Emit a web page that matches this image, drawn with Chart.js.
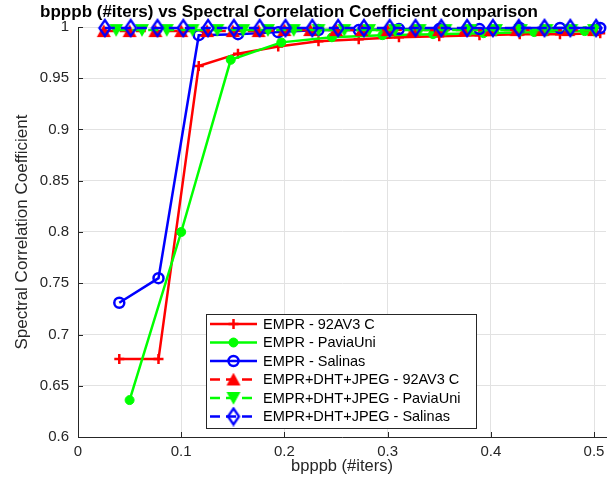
<!DOCTYPE html>
<html><head><meta charset="utf-8">
<script src="https://cdn.jsdelivr.net/npm/chart.js@4/dist/chart.umd.min.js"></script>
<style>html,body{margin:0;padding:0;background:#fff}#wrap{width:615px;height:489px}</style>
</head><body><div id="wrap"><canvas id="c" width="615" height="489"></canvas></div>
<script>
const chartTitle = 'bpppb (#iters) vs Spectral Correlation Coefficient comparison';
const xAxisLabel = 'bpppb (#iters)';
const yAxisLabel = 'Spectral Correlation Coefficient';
const seriesNames = ['EMPR - 92AV3 C', 'EMPR - PaviaUni', 'EMPR - Salinas',
  'EMPR+DHT+JPEG - 92AV3 C', 'EMPR+DHT+JPEG - PaviaUni', 'EMPR+DHT+JPEG - Salinas'];
const xTicks = [0, 0.1, 0.2, 0.3, 0.4, 0.5];
const yTicks = [0.6, 0.65, 0.7, 0.75, 0.8, 0.85, 0.9, 0.95, 1];

const empr92X = [0.040, 0.078, 0.117, 0.155, 0.194, 0.233, 0.272, 0.311, 0.350, 0.389, 0.428, 0.467, 0.506];
const empr92Y = [0.676, 0.676, 0.962, 0.974, 0.981, 0.986, 0.988, 0.990, 0.991, 0.992, 0.993, 0.993, 0.994];
const emprPaviaX = [0.050, 0.100, 0.148, 0.197, 0.246, 0.295, 0.344, 0.393, 0.442, 0.491];
const emprPaviaY = [0.636, 0.800, 0.968, 0.985, 0.990, 0.992, 0.993, 0.994, 0.995, 0.996];
const emprSalinasX = [0.040, 0.078, 0.117, 0.155, 0.194, 0.233, 0.272, 0.311, 0.350, 0.389, 0.428, 0.467, 0.506];
const emprSalinasY = [0.731, 0.755, 0.992, 0.993, 0.995, 0.997, 0.997, 0.998, 0.998, 0.998, 0.999, 0.999, 0.999];
const dht92X = [0.025, 0.050, 0.075, 0.100, 0.125, 0.150, 0.175, 0.200, 0.225, 0.250,
  0.275, 0.300, 0.325, 0.350, 0.375, 0.400, 0.425, 0.450, 0.475, 0.500];
const dht92Y = [0.996, 0.996, 0.996, 0.996, 0.996, 0.996, 0.996, 0.997, 0.997, 0.997,
  0.997, 0.997, 0.997, 0.997, 0.997, 0.997, 0.997, 0.997, 0.997, 0.997];
const dhtPaviaX = [0.037, 0.062, 0.086, 0.111, 0.135, 0.160, 0.184, 0.209, 0.233, 0.258,
  0.282, 0.307, 0.331, 0.356, 0.380, 0.405, 0.429, 0.454, 0.478, 0.500];
const dhtPaviaY = [0.997, 0.997, 0.997, 0.997, 0.997, 0.997, 0.997, 0.997, 0.997, 0.997,
  0.997, 0.997, 0.997, 0.997, 0.997, 0.997, 0.997, 0.997, 0.997, 0.997];
const dhtSalinasX = [0.026, 0.051, 0.077, 0.102, 0.126, 0.151, 0.176, 0.201, 0.227, 0.252,
  0.277, 0.302, 0.327, 0.352, 0.377, 0.402, 0.427, 0.452, 0.477, 0.502];
const dhtSalinasY = [0.999, 0.999, 0.999, 0.999, 0.999, 0.999, 0.999, 0.999, 0.999, 0.999,
  0.999, 0.999, 0.999, 0.999, 0.999, 0.999, 0.999, 0.999, 0.999, 0.999];

const RED = '#ff0000', GREEN = '#00ff00', BLUE = '#0000ff';
const AXIS = '#262626';
const FONT = "'Liberation Sans', Arial, sans-serif";
Chart.defaults.font.family = FONT;

function markerCanvas(kind, color) {
  const c = document.createElement('canvas');
  const ctx = c.getContext('2d');
  if (kind === 'up') {
    c.width = 16; c.height = 14;
    ctx.beginPath(); ctx.moveTo(8, 1.5); ctx.lineTo(14, 12.5); ctx.lineTo(2, 12.5); ctx.closePath();
    ctx.fillStyle = color; ctx.fill(); ctx.lineWidth = 1.2; ctx.strokeStyle = color; ctx.stroke();
  } else if (kind === 'down') {
    c.width = 16; c.height = 14;
    ctx.beginPath(); ctx.moveTo(2, 1.5); ctx.lineTo(14, 1.5); ctx.lineTo(8, 12.5); ctx.closePath();
    ctx.fillStyle = color; ctx.fill(); ctx.lineWidth = 1.2; ctx.strokeStyle = color; ctx.stroke();
  } else {
    c.width = 16; c.height = 20;
    ctx.beginPath(); ctx.moveTo(8, 2); ctx.lineTo(13.5, 10); ctx.lineTo(8, 18); ctx.lineTo(2.5, 10); ctx.closePath();
    ctx.lineWidth = 2.3; ctx.strokeStyle = color; ctx.lineJoin = 'miter'; ctx.stroke();
  }
  return c;
}
const triUp = markerCanvas('up', RED);
const triDown = markerCanvas('down', GREEN);
const diamond = markerCanvas('diamond', BLUE);

function pts(xs, ys) { return xs.map((x, i) => ({x: x, y: ys[i]})); }

const datasets = [
  {data: pts(empr92X, empr92Y), borderColor: RED, pointStyle: 'cross', pointRadius: 5,
   pointBorderWidth: 2.5, pointBorderColor: RED, pointBackgroundColor: RED},
  {data: pts(emprPaviaX, emprPaviaY), borderColor: GREEN, pointStyle: 'circle', pointRadius: 4.5,
   pointBorderWidth: 1, pointBorderColor: GREEN, pointBackgroundColor: GREEN},
  {data: pts(emprSalinasX, emprSalinasY), borderColor: BLUE, pointStyle: 'circle', pointRadius: 5,
   pointBorderWidth: 2.5, pointBorderColor: BLUE, pointBackgroundColor: 'rgba(0,0,0,0)'},
  {data: pts(dht92X, dht92Y), borderColor: RED, borderDash: [10, 6], pointStyle: triUp},
  {data: pts(dhtPaviaX, dhtPaviaY), borderColor: GREEN, borderDash: [10, 6], pointStyle: triDown},
  {data: pts(dhtSalinasX, dhtSalinasY), borderColor: BLUE, borderDash: [10, 6], pointStyle: diamond}
].map((d, i) => Object.assign({label: seriesNames[i], borderWidth: 2.5, tension: 0, fill: false,
  clip: false, order: 5 - i}, d));

const fmt = v => String(Number(Number(v).toFixed(3)));

const innerTicks = {
  id: 'innerTicks',
  beforeDatasetsDraw(chart) {
    const {ctx, chartArea: a} = chart;
    const xs = chart.scales.x, ys = chart.scales.y;
    ctx.save(); ctx.strokeStyle = AXIS; ctx.lineWidth = 1;
    ctx.beginPath();
    yTicks.forEach(v => { const y = Math.round(ys.getPixelForValue(v)) + 0.5; ctx.moveTo(a.left, y); ctx.lineTo(a.left + 5, y); });
    xTicks.forEach(v => { const x = Math.round(xs.getPixelForValue(v)) + 0.5; ctx.moveTo(x, a.bottom); ctx.lineTo(x, a.bottom - 5); });
    ctx.stroke(); ctx.restore();
  }
};

const titleText = {
  id: 'titleText',
  afterDraw(chart) {
    const ctx = chart.ctx;
    ctx.save();
    ctx.fillStyle = '#000'; ctx.font = "bold 17px " + FONT;
    ctx.textAlign = 'center'; ctx.textBaseline = 'middle';
    ctx.fillText(chartTitle, 289, 12.5);
    ctx.restore();
  }
};

const legendBox = {
  id: 'legendBox',
  afterDraw(chart) {
    const ctx = chart.ctx;
    const left = 206, top = 314, right = 476, bottom = 428;
    ctx.save();
    ctx.fillStyle = '#fff'; ctx.fillRect(left, top, right - left, bottom - top);
    ctx.strokeStyle = AXIS; ctx.lineWidth = 1;
    ctx.strokeRect(left + 0.5, top + 0.5, right - left, bottom - top);
    const rowH = 18.5, y0 = 324, mx = 233.5;
    chart.data.datasets.forEach((ds, i) => {
      const y = y0 + i * rowH;
      ctx.save();
      ctx.strokeStyle = ds.borderColor; ctx.lineWidth = ds.borderWidth;
      ctx.setLineDash(ds.borderDash || []);
      ctx.beginPath(); ctx.moveTo(210, y); ctx.lineTo(257, y); ctx.stroke();
      ctx.restore();
      const ps = ds.pointStyle;
      if (typeof ps === 'string') {
        ctx.save();
        ctx.fillStyle = ds.pointBackgroundColor; ctx.strokeStyle = ds.pointBorderColor; ctx.lineWidth = ds.pointBorderWidth;
        ctx.beginPath();
        if (ps === 'cross') { ctx.moveTo(mx - 5, y); ctx.lineTo(mx + 5, y); ctx.moveTo(mx, y - 5); ctx.lineTo(mx, y + 5); ctx.stroke(); }
        else { ctx.arc(mx, y, ds.pointRadius, 0, Math.PI * 2); ctx.fill(); ctx.stroke(); }
        ctx.restore();
      } else {
        ctx.drawImage(ps, mx - ps.width / 2, y - ps.height / 2);
      }
      ctx.fillStyle = '#000'; ctx.font = "14.5px " + FONT;
      ctx.textBaseline = 'middle'; ctx.textAlign = 'left';
      ctx.fillText(ds.label, 263, y + 0.5);
    });
    ctx.restore();
  }
};

new Chart(document.getElementById('c'), {
  type: 'line',
  data: {datasets: datasets},
  options: {
    responsive: false, devicePixelRatio: 1, animation: false,
    layout: {padding: {left: 0, right: 9, top: 27, bottom: 0}},
    plugins: {legend: {display: false}, tooltip: {enabled: false}, title: {display: false}},
    scales: {
      x: {type: 'linear', min: 0, max: 0.5116,
        afterBuildTicks: s => { s.ticks = xTicks.map(v => ({value: v})); },
        afterFit: s => { s.height = 52; },
        ticks: {color: AXIS, font: {size: 15}, padding: 6, maxRotation: 0, callback: v => fmt(v)},
        grid: {color: '#e2e2e2', drawTicks: false, lineWidth: 1},
        border: {display: true, color: AXIS, width: 1},
        title: {display: true, text: xAxisLabel, color: AXIS, font: {size: 16.5}, padding: {top: 0, bottom: 13}}
      },
      y: {type: 'linear', min: 0.6, max: 1,
        afterBuildTicks: s => { s.ticks = yTicks.map(v => ({value: v})); },
        afterFit: s => { s.width = 78; },
        ticks: {color: AXIS, font: {size: 15}, padding: 9, callback: v => fmt(v)},
        grid: {color: '#e2e2e2', drawTicks: false, lineWidth: 1},
        border: {display: true, color: AXIS, width: 1},
        title: {display: true, text: yAxisLabel, color: AXIS, font: {size: 17}, padding: {top: 12, bottom: 0}}
      }
    }
  },
  plugins: [innerTicks, titleText, legendBox]
});
</script>
</body></html>
